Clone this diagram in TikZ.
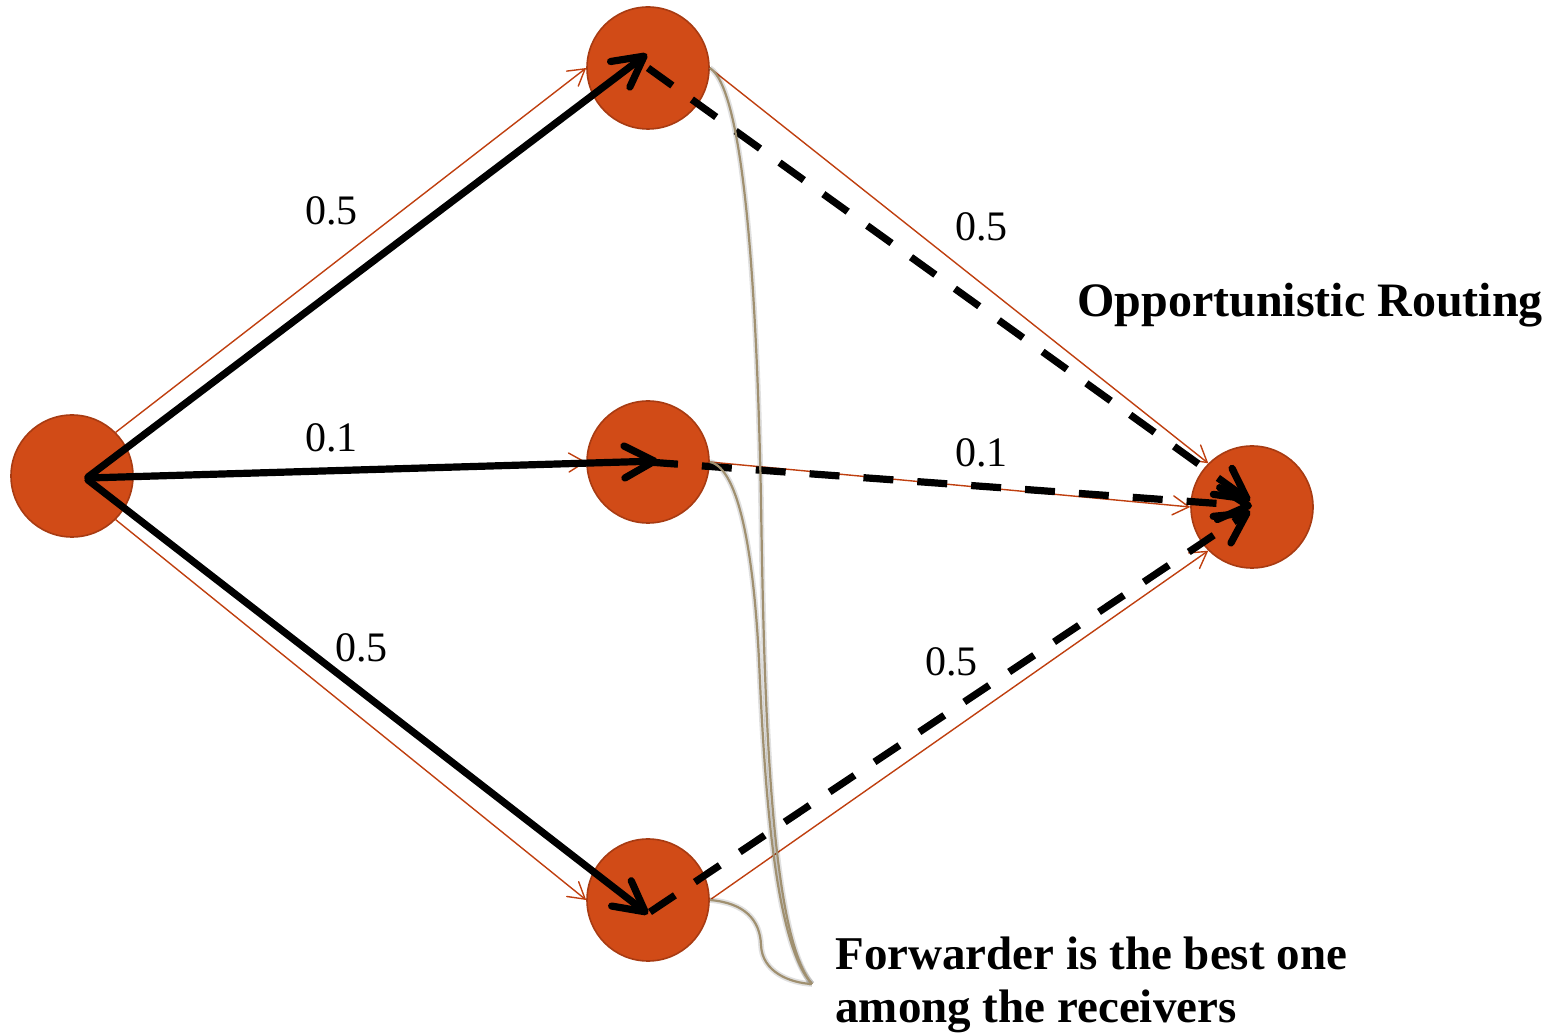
\documentclass[tikz,border=0pt]{standalone}
\usepackage{fontspec}
\setmainfont{Liberation Serif}
\usetikzlibrary{arrows.meta}
\definecolor{nodefill}{HTML}{D14B17}
\definecolor{nodeedge}{HTML}{A83B12}
\definecolor{linkorange}{HTML}{BF3F0F}
\definecolor{calloutcol}{HTML}{A09070}
\begin{document}
\begin{tikzpicture}[x=0.5pt,y=-0.5pt,
  netnode/.style={circle,fill=nodefill,draw=nodeedge,line width=0.8pt,minimum size=61pt,inner sep=0pt},
  linkarrow/.style={draw=linkorange,line width=0.7pt,-{Straight Barb[length=8pt,width=9.5pt,line cap=round]}},
  pathsolid/.style={draw=black,line width=3.6pt,line cap=round,-{Straight Barb[length=15pt,width=16pt,line cap=round,line join=round]}},
  pathdashed/.style={draw=black,line width=3.6pt,dash pattern=on 15pt off 12pt,-{Straight Barb[length=15pt,width=16pt,line cap=round,line join=round]}},
  calloutline/.style={draw=calloutcol,line width=1.1pt},
  calloutshadow/.style={draw=black,opacity=0.12,line width=2.8pt},
  problabel/.style={anchor=base west,inner sep=0pt,font=\fontsize{21}{25}\selectfont},
  titlelabel/.style={anchor=base west,inner sep=0pt,font=\fontsize{24}{27}\selectfont\bfseries}]
\useasboundingbox (0,0) rectangle (1564,1036);

% nodes
\node[netnode] (S) at (72,476) {};
\node[netnode] (A) at (648,68) {};
\node[netnode] (B) at (648,462) {};
\node[netnode] (C) at (648,900) {};
\node[netnode] (D) at (1252,507) {};

% thin orange links
\draw[linkarrow] (S.45) -- (A.west);
\draw[linkarrow] (S.east) -- (B.west);
\draw[linkarrow] (S.-45) -- (C.west);
\draw[linkarrow] (A.east) -- (D.135);
\draw[linkarrow] (B.east) -- (D.west);
\draw[linkarrow] (C.east) -- (D.-135);

% solid black broadcast arrows
\draw[pathsolid] ([shift={(16,1)}]S.center) -- ([shift={(-1,-14)}]A.center);
\draw[pathsolid] ([shift={(16,2)}]S.center) -- ([shift={(10,-1)}]B.center);
\draw[pathsolid] ([shift={(16,4)}]S.center) -- ([shift={(0,14)}]C.center);

% dashed forwarding arrows
\draw[pathdashed] (A.center) -- ([shift={(-2,-6)}]D.center);
\draw[pathdashed] (B.center) -- ([shift={(0,-1)}]D.center);
\draw[pathdashed] ([shift={(2,12)}]C.center) -- ([shift={(-2,4)}]D.center);

% callout lines (shadow then line)
\coordinate (tip) at (812,984);
\foreach \st in {calloutshadow,calloutline}{
  \draw[\st] (A.east) .. controls (745,90) and (757,300) .. (761,500)
                     .. controls (764,700) and (770,935) .. (tip);
  \draw[\st] (B.east) .. controls (740,468) and (754,560) .. (759,660)
                     .. controls (765,800) and (776,945) .. (tip);
  \draw[\st] (C.east) .. controls (745,903) and (760,920) .. (761,945)
                     .. controls (762,972) and (790,983) .. (tip);
}

% labels
\node[problabel] (l1) at (305,225) {0.5};
\node[problabel] (l2) at (305,452) {0.1};
\node[problabel] (l3) at (335,662) {0.5};
\node[problabel] (l4) at (955,241) {0.5};
\node[problabel] (l5) at (955,467) {0.1};
\node[problabel] (l6) at (925,676) {0.5};

\node[titlelabel] (title) at (1077,317) {Opportunistic Routing};
\node[titlelabel,font=\fontsize{23.5}{27}\selectfont\bfseries] (note1) at (835,969) {Forwarder is the best one};
\node[titlelabel,font=\fontsize{23.5}{27}\selectfont\bfseries] (note2) at (835,1022) {among the receivers};
\end{tikzpicture}
\end{document}
